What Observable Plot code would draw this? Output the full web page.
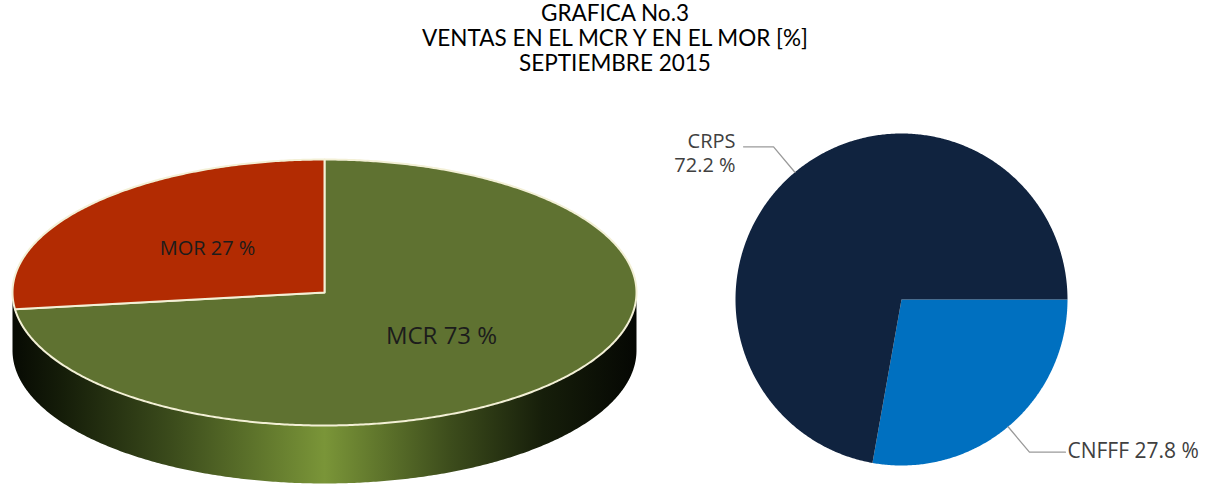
<!DOCTYPE html>
<html>
<head>
<meta charset="utf-8">
<script src="https://cdn.jsdelivr.net/npm/d3@7"></script>
<script src="https://cdn.jsdelivr.net/npm/@observablehq/plot@0.6"></script>
<style>
  html, body { margin: 0; padding: 0; background: #ffffff; }
  body { width: 1230px; height: 487px; overflow: hidden; }
  #title { font-family: Lato, "Open Sans", sans-serif; font-size: 22.5px; line-height: 25px; text-align: center; color: #000; height: 75px; }
  #chart svg { display: block; }
</style>
</head>
<body>
<div id="title">
  <div>GRAFICA No.3</div>
  <div>VENTAS EN EL MCR Y EN EL MOR [%]</div>
  <div>SEPTIEMBRE 2015</div>
</div>
<div id="chart"></div>
<script>
// ---- data ----
const marketNames = ["MCR", "MOR"];
const marketShares = [73, 27];
const plantNames = ["CNFFF", "CRPS"];
const plantShares = [27.8, 72.2];

// ---- layout / style ----
const W = 1230, H = 412;
const L = {cx: 324, cy: 217, rx: 312, ry: 133, depth: 58};
const R = {cx: 901, cy: 224, r: 166};
const marketColors = ["#5f7231", "#b22b02"];
const plantColors = ["#0070c0", "#10233f"];
const labelFont = "'Open Sans', 'Noto Sans', sans-serif";

const market = marketNames.map((name, i) => ({name, value: marketShares[i]}));
const plant = plantNames.map((name, i) => ({name, value: plantShares[i]}));

const TAU = Math.PI * 2;
const pieL = d3.pie().sort(null).value(d => d.value)(market);
const pieR = d3.pie().sort(null).value(d => d.value).startAngle(Math.PI / 2).endAngle(Math.PI / 2 + TAU)(plant);

const ptE = (a, f = 1, dy = 0) => [L.cx + L.rx * f * Math.sin(a), L.cy - L.ry * f * Math.cos(a) + dy];
const ptC = (a, f = 1) => [R.cx + R.r * f * Math.sin(a), R.cy - R.r * f * Math.cos(a)];

function arcPts(a0, a1, fn) {
  const n = Math.max(2, Math.ceil(Math.abs(a1 - a0) / (Math.PI / 360)));
  return d3.range(n + 1).map(i => fn(a0 + (a1 - a0) * i / n));
}

// wedges of the 3D (elliptical) pie: top face
const leftWedges = pieL.flatMap(s => {
  const pts = [ptE(0, 0), ...arcPts(s.startAngle, s.endAngle, a => ptE(a)), ptE(0, 0)];
  return pts.map(([x, y]) => ({name: s.data.name, x, y}));
});
// front side (thickness)
const sideTop = arcPts(Math.PI / 2, Math.PI * 3 / 2, a => ptE(a));
const sideBot = arcPts(Math.PI * 3 / 2, Math.PI / 2, a => ptE(a, 1, L.depth));
const side = [...sideTop, ...sideBot, sideTop[0]].map(([x, y]) => ({x, y}));

const leftLabels = pieL.map(s => {
  const [x, y] = ptE((s.startAngle + s.endAngle) / 2, 0.5);
  return {x, y, text: `${s.data.name} ${s.data.value} %`, size: s.data.name === "MCR" ? 24 : 20};
});

// flat pie
const rightWedges = pieR.flatMap(s => {
  const pts = [ptC(0, 0), ...arcPts(s.startAngle, s.endAngle, a => ptC(a)), ptC(0, 0)];
  return pts.map(([x, y]) => ({name: s.data.name, x, y}));
});
const leaders = pieR.flatMap(s => {
  const m = (s.startAngle + s.endAngle) / 2;
  const p0 = ptC(m, 1), p1 = ptC(m, 1.2);
  const dir = Math.sin(m) >= 0 ? 1 : -1;
  const p2 = [p1[0] + dir * (dir > 0 ? 36 : 30), p1[1]];
  return [p0, p1, p2].map(([x, y]) => ({name: s.data.name, x, y}));
});
const labelsRightSide = [], labelsLeftSide = [];
pieR.forEach(s => {
  const m = (s.startAngle + s.endAngle) / 2;
  const p1 = ptC(m, 1.2);
  const v = s.data.value.toFixed(1);
  if (Math.sin(m) >= 0) {
    labelsRightSide.push({x: p1[0] + 38, y: p1[1] - 1, text: `${s.data.name} ${v} %`});
  } else {
    labelsLeftSide.push({x: p1[0] - 38, y: p1[1] + 5, text: `${s.data.name}\n${v} %`});
  }
});

const defs = () => {
  const g = d3.create("svg:defs");
  const lg = g.append("linearGradient").attr("id", "sideGrad").attr("x1", 0).attr("x2", 1).attr("y1", 0).attr("y2", 0);
  [[0, "#070a03"], [0.08, "#151d09"], [0.25, "#3a4a1b"], [0.5, "#7a9538"], [0.7, "#3d4d1c"], [0.85, "#161e0a"], [1, "#050703"]]
    .forEach(([o, c]) => lg.append("stop").attr("offset", o).attr("stop-color", c));
  return g.node();
};

const chart = Plot.plot({
  width: W,
  height: H,
  margin: 0,
  x: {type: "identity", axis: null},
  y: {type: "identity", axis: null},
  color: {domain: [...marketNames, ...plantNames], range: [...marketColors, ...plantColors]},
  marks: [
    defs,
    Plot.line(side, {x: "x", y: "y", fill: "url(#sideGrad)", stroke: "none", curve: "linear"}),
    Plot.line(leftWedges, {x: "x", y: "y", z: "name", fill: "name", stroke: "#f3f0d6", strokeWidth: 2, strokeLinejoin: "round", curve: "linear"}),
    Plot.text(leftLabels, {x: "x", y: "y", text: "text", fontSize: "size", fill: "#1c1c1c", fontFamily: labelFont}),
    Plot.line(rightWedges, {x: "x", y: "y", z: "name", fill: "name", stroke: "none", curve: "linear"}),
    Plot.line(leaders, {x: "x", y: "y", z: "name", stroke: "#9a9a9a", strokeWidth: 1.3, curve: "linear"}),
    Plot.text(labelsLeftSide, {x: "x", y: "y", text: "text", textAnchor: "end", lineAnchor: "middle", lineHeight: 1.2, fontSize: 20, fill: "#404040", fontFamily: labelFont}),
    Plot.text(labelsRightSide, {x: "x", y: "y", text: "text", textAnchor: "start", fontSize: 21, fill: "#404040", fontFamily: labelFont})
  ]
});
document.getElementById("chart").appendChild(chart);
</script>
</body>
</html>
